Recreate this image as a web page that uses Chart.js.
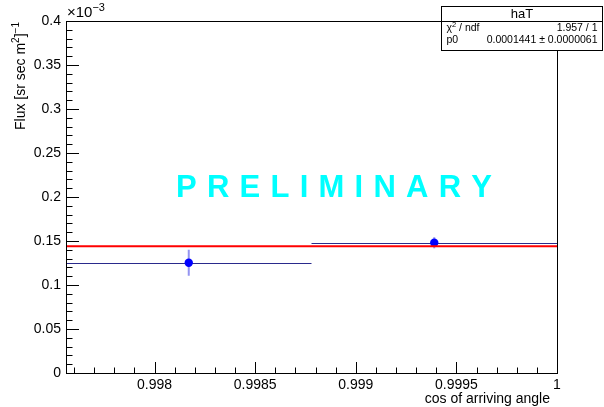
<!DOCTYPE html>
<html>
<head>
<meta charset="utf-8">
<script src="https://cdn.jsdelivr.net/npm/chart.js@4.4.0/dist/chart.umd.min.js"></script>
<style>
  body { margin: 0; background: #fff; }
  canvas { display: block; }
</style>
</head>
<body>
<canvas id="fluxChart" width="604" height="407"></canvas>
<script>
// bins of cos(arriving angle)
const binLow = [0.99756, 0.99878];
const binHigh = [0.99878, 1.0];
const binCenter = [0.99817, 0.99939];
// flux, in units of 1e-3
const fluxValues = [0.1253, 0.148];
const fluxErrors = [0.0148, 0.0063];
// pol0 fit
const fitRange = [0.99756, 1.0];
const fitP0 = 0.1441;
const statsTitle = 'haT';
const statsRows = [['\u03c7', '1.957 / 1'], ['p0', '0.0001441 \u00b1 0.0000061']];

const FONT = '"Liberation Sans", Arial, Helvetica, sans-serif';

function drawAxisTicks(ctx, chart) {
  const xs = chart.scales.x, ys = chart.scales.y;
  const a = chart.chartArea;
  ctx.strokeStyle = '#000';
  ctx.lineWidth = 1;
  ctx.beginPath();
  // x ticks, inside the frame (ROOT style)
  for (let i = 0; i <= 24; i++) {
    const v = 0.9976 + i * 0.0001;
    const px = Math.round(xs.getPixelForValue(v)) + 0.5;
    const major = (i + 1) % 5 === 0;
    ctx.moveTo(px, a.bottom);
    ctx.lineTo(px, a.bottom - (major ? 11 : 5.5));
  }
  // y ticks
  for (let i = 0; i <= 40; i++) {
    const py = Math.round(ys.getPixelForValue(i * 0.01)) + 0.5;
    ctx.moveTo(a.left, py);
    ctx.lineTo(a.left + (i % 5 === 0 ? 13 : 6.5), py);
  }
  ctx.stroke();
}

const rootStyle = {
  id: 'rootStyle',
  beforeDatasetsDraw(chart) {
    const ctx = chart.ctx;
    const xs = chart.scales.x, ys = chart.scales.y;
    ctx.save();
    // error bars
    for (let i = 0; i < fluxValues.length; i++) {
      const py = ys.getPixelForValue(fluxValues[i]);
      ctx.strokeStyle = '#2a2a8c';
      ctx.lineWidth = 1;
      ctx.beginPath();
      ctx.moveTo(xs.getPixelForValue(binLow[i]), Math.round(py) + 0.5);
      ctx.lineTo(xs.getPixelForValue(binHigh[i]), Math.round(py) + 0.5);
      ctx.stroke();
      const px = xs.getPixelForValue(binCenter[i]);
      ctx.strokeStyle = 'rgba(60, 60, 230, 0.55)';
      ctx.lineWidth = 2;
      ctx.beginPath();
      ctx.moveTo(px, ys.getPixelForValue(fluxValues[i] - fluxErrors[i]));
      ctx.lineTo(px, ys.getPixelForValue(fluxValues[i] + fluxErrors[i]));
      ctx.stroke();
    }
    ctx.restore();
  },
  afterDraw(chart) {
    const ctx = chart.ctx;
    const a = chart.chartArea;
    ctx.save();
    // frame and ticks
    ctx.strokeStyle = '#000';
    ctx.lineWidth = 1;
    ctx.strokeRect(Math.round(a.left) + 0.5, Math.round(a.top) + 0.5,
      Math.round(a.right - a.left), Math.round(a.bottom - a.top));
    drawAxisTicks(ctx, chart);

    ctx.fillStyle = '#000';
    ctx.textBaseline = 'alphabetic';

    // exponent label on the y axis
    ctx.font = '15px ' + FONT;
    ctx.textAlign = 'left';
    ctx.fillText('\u00d710', a.left + 1, a.top - 4);
    const w10 = ctx.measureText('\u00d710').width;
    ctx.font = '11px ' + FONT;
    ctx.fillText('\u22123', a.left + 1 + w10, a.top - 10);

    // y title, rotated
    ctx.save();
    ctx.translate(25, 130);
    ctx.rotate(-Math.PI / 2);
    let x = 0;
    const parts = [['Flux [sr sec m', 0, 14], ['2', -6, 10], [']', 0, 14], ['\u22121', -6, 10]];
    parts.forEach(p => {
      ctx.font = p[2] + 'px ' + FONT;
      ctx.fillText(p[0], x, p[1]);
      x += ctx.measureText(p[0]).width;
    });
    ctx.restore();

    // x title
    ctx.font = '14px ' + FONT;
    ctx.textAlign = 'right';
    ctx.fillText('cos of arriving angle', a.right - 7, 403);

    // PRELIMINARY
    ctx.font = 'bold 31px ' + FONT;
    ctx.fillStyle = '#00ffff';
    ctx.textAlign = 'left';
    const word = 'PRELIMINARY';
    let sum = 0;
    for (const ch of word) sum += ctx.measureText(ch).width;
    const gap = (316 - sum) / (word.length - 1);
    let lx = a.left + 110;
    for (const ch of word) {
      ctx.fillText(ch, lx, 197);
      lx += ctx.measureText(ch).width + gap;
    }

    // stats box
    const bx = 441.5, by = 6.5, bw = 161, bh = 44;
    ctx.fillStyle = '#fff';
    ctx.fillRect(bx, by, bw, bh);
    ctx.strokeStyle = '#000';
    ctx.lineWidth = 1;
    ctx.strokeRect(bx, by, bw, bh);
    ctx.beginPath();
    ctx.moveTo(bx, 21.5);
    ctx.lineTo(bx + bw, 21.5);
    ctx.stroke();
    ctx.fillStyle = '#000';
    ctx.font = '13px ' + FONT;
    ctx.textAlign = 'center';
    ctx.fillText(statsTitle, bx + bw / 2, 18);
    ctx.font = '10.5px ' + FONT;
    ctx.textAlign = 'left';
    ctx.fillText(statsRows[0][0], bx + 5, 31);
    const wc = ctx.measureText(statsRows[0][0]).width;
    ctx.font = '7.5px ' + FONT;
    ctx.fillText('2', bx + 5 + wc, 27);
    const w2 = ctx.measureText('2').width;
    ctx.font = '10.5px ' + FONT;
    ctx.fillText(' / ndf', bx + 5 + wc + w2, 31);
    ctx.textAlign = 'right';
    ctx.fillText(statsRows[0][1], bx + bw - 5, 31);
    ctx.textAlign = 'left';
    ctx.fillText(statsRows[1][0], bx + 5, 43);
    ctx.textAlign = 'right';
    ctx.fillText(statsRows[1][1], bx + bw - 5, 43);
    ctx.restore();
  }
};

const ctx = document.getElementById('fluxChart').getContext('2d');
const fluxChart = new Chart(ctx, {
  type: 'scatter',
  data: {
    datasets: [{
      type: 'line',
      label: 'fit',
      data: fitRange.map(v => ({ x: v, y: fitP0 })),
      borderColor: '#ff0000',
      borderWidth: 2,
      pointRadius: 0,
      fill: false,
      order: 0
    }, {
      label: 'flux',
      data: binCenter.map((c, i) => ({ x: c, y: fluxValues[i] })),
      backgroundColor: '#0000ff',
      borderWidth: 0,
      pointRadius: 4.2,
      order: 1
    }]
  },
  options: {
    responsive: false,
    animation: false,
    layout: { padding: { top: 21, right: 47, bottom: 0, left: 0 } },
    plugins: { legend: { display: false }, tooltip: { enabled: false } },
    scales: {
      x: {
        type: 'linear',
        min: 0.99756,
        max: 1.0,
        grid: { display: false, drawTicks: false },
        border: { display: false },
        ticks: {
          stepSize: 0.0005,
          includeBounds: false,
          maxRotation: 0,
          padding: 4,
          color: '#000',
          font: { family: FONT, size: 14 },
          callback: v => String(+v.toFixed(5))
        },
        afterFit: s => { s.height = 34; }
      },
      y: {
        min: 0,
        max: 0.4,
        grid: { display: false, drawTicks: false },
        border: { display: false },
        ticks: {
          stepSize: 0.05,
          padding: 5,
          color: '#000',
          font: { family: FONT, size: 14 },
          callback: v => String(+v.toFixed(3))
        },
        afterFit: s => { s.width = 66; }
      }
    }
  },
  plugins: [rootStyle]
});
</script>
</body>
</html>
